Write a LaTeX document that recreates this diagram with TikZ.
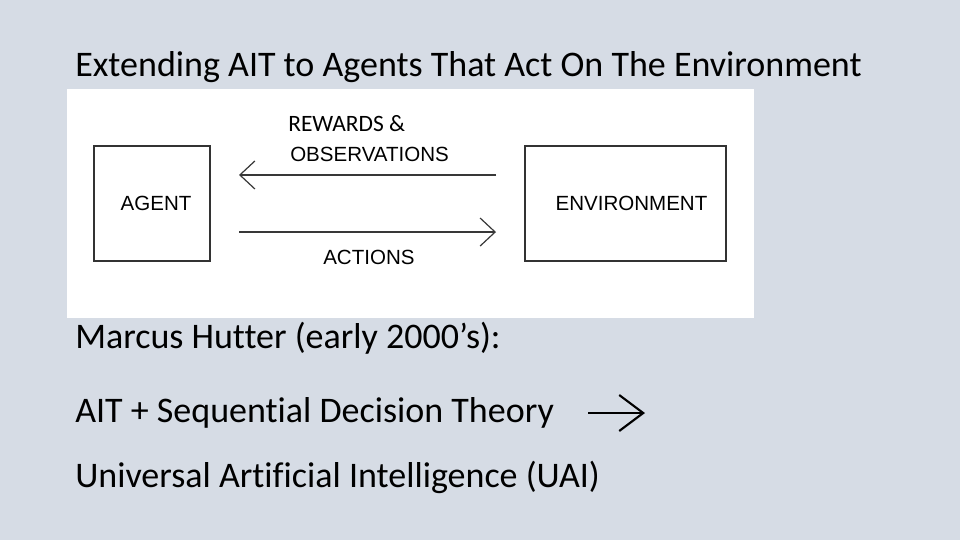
\documentclass[tikz,border=0pt]{standalone}
\usepackage{fontspec}
\setmainfont{Carlito}[Ligatures={NoCommon}]
\newfontfamily\arialfont{Liberation Sans}
\usetikzlibrary{arrows.meta,positioning}
\definecolor{slidebg}{HTML}{D6DCE5}
\definecolor{boxgray}{HTML}{333333}
\definecolor{arrowgray}{HTML}{383838}

\begin{document}
\begin{tikzpicture}[x=0.75pt,y=-0.75pt,
    box/.style={draw=boxgray,line width=1.5pt,inner sep=0pt,minimum height=86pt,
      font=\arialfont\fontsize{15.4}{18}\selectfont},
    flow/.style={draw=arrowgray,line width=1.3pt,shorten >=21pt,shorten <=21pt,
      -{Straight Barb[length=11.25pt,width=21pt,line width=0.9pt]}},
    tag/.style={anchor=base west,inner sep=0pt,font=\arialfont\fontsize{15.4}{18}\selectfont},
    slideline/.style={anchor=base west,inner sep=0pt,font=\fontsize{27}{32}\selectfont}]
        %% slide
        \fill[slidebg] (0,0) rectangle (960,540);
        \fill[white] (67,89) rectangle (754,318);
        \node[slideline] (title) at (75,76) {Extending AIT to Agents That Act On The Environment};
        %% agent and environment
        \node[box,minimum width=87pt] (agent) at (152,203.5) {\hspace*{6pt}AGENT};
        \node[box,minimum width=150.75pt] (env) at (625.5,203.5) {\hspace*{9pt}ENVIRONMENT};
        %% arrows
        \draw[flow] ([yshift=21.4pt]env.west) -- ([yshift=21.4pt]agent.east);
        \draw[flow] ([yshift=-21.4pt]agent.east) -- ([yshift=-21.4pt]env.west);
        \node[tag,font=\fontsize{17.6}{20}\selectfont] (rewards) at (288,131.5) {REWARDS \&};
        \node[tag] (obs) at (290,161) {OBSERVATIONS};
        \node[tag] (actions) at (323,264) {ACTIONS};
        %% text
        \node[slideline] (hutter) at (75,348) {Marcus Hutter (early 2000’s):};
        \node[slideline] (seq) at (75,422) {AIT + Sequential Decision Theory};
        \node[slideline] (uai) at (75,487) {Universal Artificial Intelligence (UAI)};
        \coordinate (from) at (588,413);
        \coordinate (to) at (645,413);
        \draw[line width=1.6pt,-{Straight Barb[length=18pt,width=27pt,line width=1.6pt]}] (from) -- (to);
\end{tikzpicture}
\end{document}
